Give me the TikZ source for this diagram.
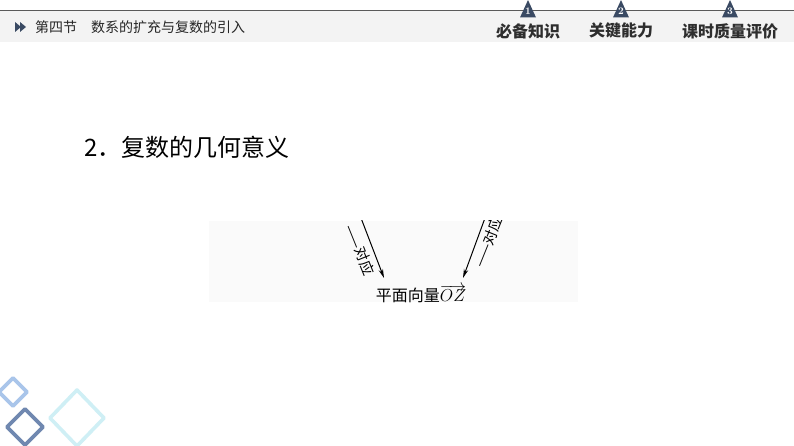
\documentclass[tikz,border=0pt]{standalone}
\usepackage{fontspec}
\usetikzlibrary{arrows.meta}
\newfontfamily\cjk{Noto Sans CJK SC}
\definecolor{hdrline}{HTML}{5A5A5A}
\definecolor{hdrband}{HTML}{F3F3F3}
\definecolor{badge}{HTML}{3A4A63}
\definecolor{tabtext}{HTML}{2E2E2E}
\definecolor{dlight}{HTML}{A9C5EA}
\definecolor{ddark}{HTML}{7088B0}
\definecolor{dcyan}{HTML}{CFEFF5}
\definecolor{figbg}{HTML}{FAFAFA}
\tikzset{
  tab/.style={font=\cjk\bfseries\fontsize{16}{16}\selectfont, text=tabtext, inner sep=0pt, anchor=center},
  badgetri/.style={fill=badge, draw=none},
  badgenum/.style={font=\bfseries\fontsize{10}{10}\selectfont, text=white, inner sep=0pt},
  mapar/.style={line width=1pt, -{Stealth[length=9pt,width=4.5pt]}},
  maplabel/.style={font=\cjk\fontsize{14.5}{14.5}\selectfont, inner sep=0pt},
  deco/.style={line width=3.6pt, line join=round}
}
\begin{document}
\begin{tikzpicture}[x=1pt,y=-1pt]
\useasboundingbox (0,0) rectangle (794,446);
\fill[white] (0,0) rectangle (794,446);
% header
\fill[hdrband] (0,11) rectangle (794,42);
\draw[hdrline, line width=1.2pt] (0,10.5) -- (794,10.5);
\fill[badge] (15,22) -- (21,27) -- (15,32) -- cycle;
\fill[badge] (20,22) -- (26,27) -- (20,32) -- cycle;
\node[font=\cjk\fontsize{14}{14}\selectfont, anchor=west, inner sep=0pt, text=black!85] (sec) at (35,27) {第四节　数系的扩充与复数的引入};
% tabs
\foreach \cx/\n/\lab [count=\i] in {528/1/必备知识, 621/2/关键能力, 730/3/课时质量评价}{
  \fill[badgetri] (\cx-8,17.5) -- (\cx,0) -- (\cx+8,17.5) -- cycle;
  \node[badgenum] (num\i) at (\cx,11) {\n};
  \node[tab] (tab\i) at (\cx,31) {\lab};
}
% title
\node[font=\cjk\fontsize{24}{24}\selectfont, anchor=west, inner sep=0pt] (title) at (84,147) {2．复数的几何意义};
% figure
\fill[figbg] (209,221) rectangle (578,302);
\begin{scope}
\clip (209,221) rectangle (578,302);
\node[font=\cjk\fontsize{16}{16}\selectfont, inner sep=0pt] (vec) at (421,294) {平面向量$\overrightarrow{OZ}$};
\coordinate (lstart) at (361,218);
\coordinate (rstart) at (485,218);
\coordinate (lend) at (384,278);
\coordinate (rend) at (463,278);
\draw[mapar] (lstart) -- (lend);
\draw[mapar] (rstart) -- (rend);
\node[maplabel, rotate=-68] (llab) at (360,250) {——对应};
\node[maplabel, rotate=68] (rlab) at (488,242) {——对应};
\end{scope}
% decorative diamonds
\draw[deco, dcyan] (77,390) -- (104,418) -- (77,446) -- (50,418) -- cycle;
\draw[deco, dlight] (13,378) -- (27,392) -- (13,406) -- (-1,392) -- cycle;
\draw[deco, ddark] (25,409) -- (43,427) -- (25,445) -- (7,427) -- cycle;
\end{tikzpicture}
\end{document}
